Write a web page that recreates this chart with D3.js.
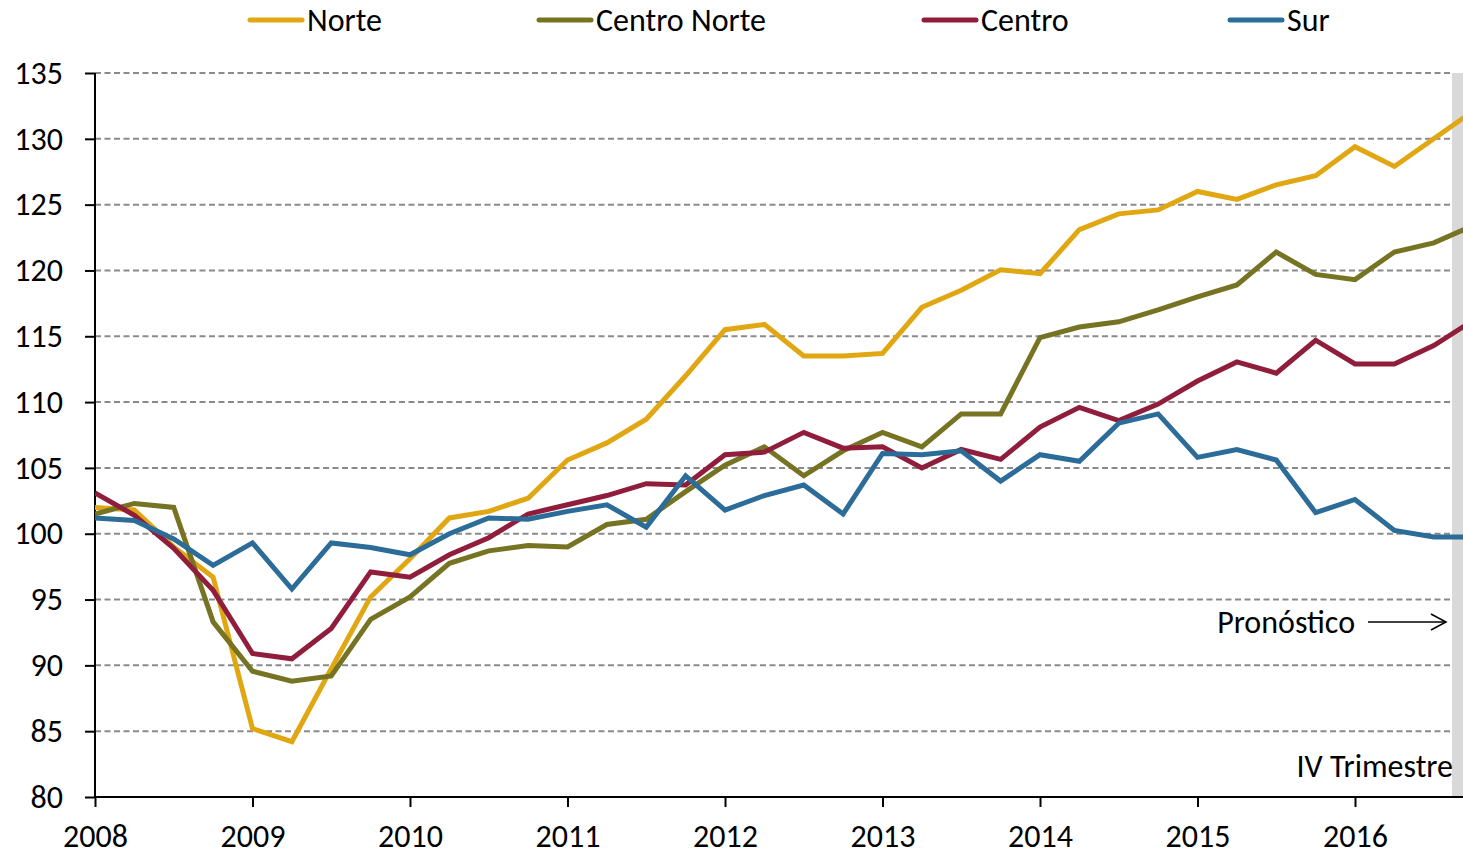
<!DOCTYPE html>
<html>
<head>
<meta charset="utf-8">
<script src="https://cdn.jsdelivr.net/npm/d3@7"></script>
<style>
  body { margin: 0; background: #fff; }
  svg { display: block; font-family: Calibri, Carlito, "Open Sans", sans-serif; }
</style>
</head>
<body>
<div id="content"></div>
<script>
// quarterly index, 2008 Q1 .. 2016 Q4
var quarters = d3.range(36).map(function(i){ return 2008 + i / 4; });
var years = [2008, 2009, 2010, 2011, 2012, 2013, 2014, 2015, 2016];
var yTicks = [80, 85, 90, 95, 100, 105, 110, 115, 120, 125, 130, 135];

var norte = [102.0, 101.8, 99.0, 96.7, 85.2, 84.2, 89.75, 95.2, 98.1, 101.2, 101.7, 102.7,
  105.6, 106.9, 108.7, 112.0, 115.5, 115.9, 113.5, 113.5, 113.7, 117.2, 118.5, 120.05,
  119.75, 123.1, 124.3, 124.6, 126.0, 125.4, 126.5, 127.2, 129.4, 127.9, 130.0, 132.1];
var centroNorte = [101.5, 102.3, 102.0, 93.3, 89.55, 88.8, 89.2, 93.5, 95.2, 97.75, 98.7, 99.1,
  99.0, 100.7, 101.1, 103.2, 105.2, 106.6, 104.4, 106.3, 107.7, 106.6, 109.1, 109.1,
  114.9, 115.7, 116.1, 117.0, 118.0, 118.9, 121.4, 119.7, 119.3, 121.4, 122.1, 123.4];
var centro = [103.1, 101.4, 98.9, 95.7, 90.9, 90.5, 92.8, 97.1, 96.7, 98.4, 99.7, 101.5,
  102.2, 102.9, 103.8, 103.7, 106.0, 106.2, 107.7, 106.5, 106.6, 105.0, 106.4, 105.65,
  108.1, 109.6, 108.6, 109.85, 111.6, 113.05, 112.2, 114.7, 112.9, 112.9, 114.3, 116.2];
var sur = [101.2, 101.0, 99.6, 97.6, 99.3, 95.8, 99.3, 98.95, 98.4, 100.0, 101.2, 101.1,
  101.7, 102.2, 100.5, 104.4, 101.8, 102.9, 103.7, 101.5, 106.1, 106.0, 106.3, 104.0,
  106.0, 105.5, 108.4, 109.1, 105.8, 106.4, 105.6, 101.6, 102.6, 100.25, 99.75, 99.75];

var seriesNames = ["Norte", "Centro Norte", "Centro", "Sur"];
var seriesColors = ["#E1A713", "#767323", "#8F1D3B", "#2B6C99"];
var seriesValues = [norte, centroNorte, centro, sur];

var W = 1463, H = 855;
var mLeft = 95, mRight = 1463, mTop = 73, mBottom = 797;

var svg = d3.select('#content').append('svg')
    .attr('width', W).attr('height', H);

var x = d3.scaleLinear().domain([2008, 2016]).range([mLeft, 1355]);
var y = d3.scaleLinear().domain([80, 135]).range([mBottom, mTop]);

svg.append("defs").append("clipPath").attr("id", "plot")
  .append("rect").attr("x", mLeft).attr("y", 0).attr("width", mRight - mLeft).attr("height", mBottom + 5);

// gridlines
svg.append("g").selectAll("line")
    .data(yTicks.filter(function(d){ return d > 80; }))
    .enter().append("line")
    .attr("x1", mLeft).attr("x2", 1450)
    .attr("y1", function(d){ return y(d); }).attr("y2", function(d){ return y(d); })
    .attr("stroke", "#8A8A8A").attr("stroke-width", 2)
    .attr("stroke-dasharray", "6,3.5");

// forecast band
svg.append("rect")
    .attr("x", 1452).attr("y", mTop)
    .attr("width", mRight - 1452).attr("height", mBottom - mTop)
    .attr("fill", "#D9D9D9");

// axes
var yAxis = svg.append("g")
    .attr("transform", "translate(" + mLeft + ",0)")
    .call(d3.axisLeft(y).tickValues(yTicks).tickSize(10).tickPadding(22));
var xAxis = svg.append("g")
    .attr("transform", "translate(0," + mBottom + ")")
    .call(d3.axisBottom(x).tickValues(years).tickFormat(d3.format("d")).tickSize(10).tickPadding(17));

[yAxis, xAxis].forEach(function(a){
  a.select(".domain").attr("stroke", "#000").attr("stroke-width", 2);
  a.selectAll(".tick line").attr("stroke", "#000").attr("stroke-width", 2);
  a.selectAll(".tick text").attr("fill", "#000").style("font-size", "32px")
    .style("font-family", "Calibri, Carlito, 'Open Sans', sans-serif");
});
xAxis.select(".domain").attr("d", "M" + mLeft + ",0H" + mRight);
yAxis.select(".domain").attr("d", "M0," + mTop + "V" + mBottom);

// lines
var line = d3.line()
    .x(function(d, i){ return x(quarters[i]); })
    .y(function(d){ return y(d); });

svg.append("g").attr("clip-path", "url(#plot)")
  .selectAll("path")
  .data(seriesValues)
  .enter().append("path")
  .attr("d", line)
  .attr("fill", "none")
  .attr("stroke", function(d, i){ return seriesColors[i]; })
  .attr("stroke-width", 5)
  .attr("stroke-linejoin", "miter");

// legend
var legendX = [248, 537, 922, 1228];
var legend = svg.append("g").selectAll("g")
    .data(seriesNames)
    .enter().append("g")
    .attr("transform", function(d, i){ return "translate(" + legendX[i] + ",20)"; });
legend.append("line")
    .attr("x1", 2).attr("x2", 54)
    .attr("stroke", function(d, i){ return seriesColors[i]; })
    .attr("stroke-width", 5).attr("stroke-linecap", "round");
legend.append("text")
    .attr("x", 59).attr("y", 11)
    .style("font-size", "32px")
    .text(function(d){ return d; });

// annotations
svg.append("text")
    .attr("x", 1355).attr("y", 633)
    .attr("text-anchor", "end")
    .style("font-size", "32px")
    .text("Pronóstico");
svg.append("line")
    .attr("x1", 1368).attr("x2", 1445)
    .attr("y1", 622).attr("y2", 622)
    .attr("stroke", "#000").attr("stroke-width", 1.5);
svg.append("path")
    .attr("d", "M1431,614L1446,622L1431,630")
    .attr("fill", "none").attr("stroke", "#000").attr("stroke-width", 1.5);
svg.append("text")
    .attr("x", 1453).attr("y", 777)
    .attr("text-anchor", "end")
    .style("font-size", "32px")
    .text("IV Trimestre");
</script>
</body>
</html>
